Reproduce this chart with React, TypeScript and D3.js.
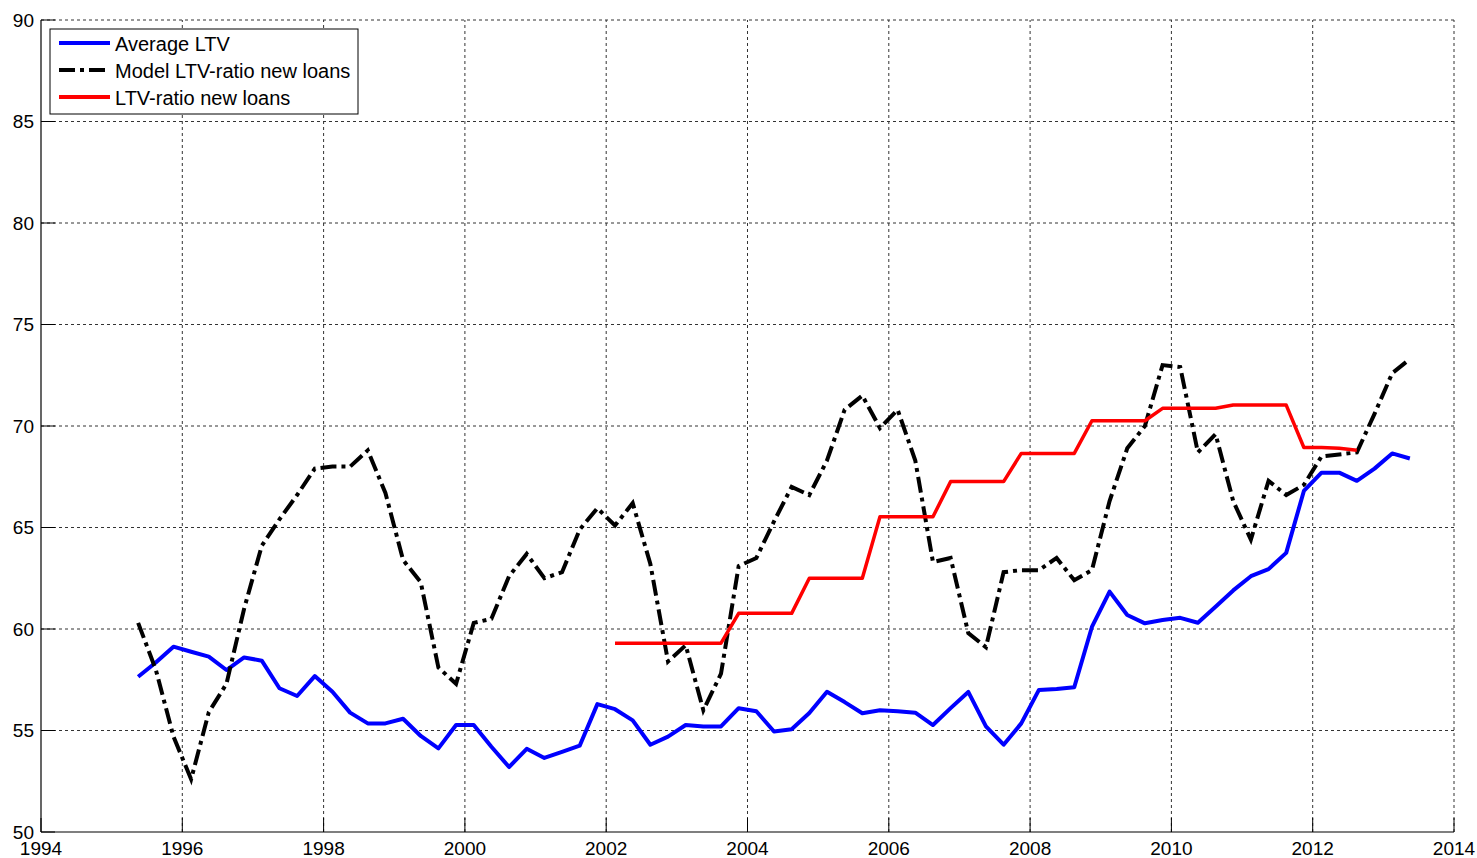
import React from "react";
import * as d3 from "d3";

// Quarterly observations, first quarter plotted at 1995.375
const startYear = 1995.375;
const quarterStep = 0.25;

const averageLTV = [
  57.65, 58.35, 59.13, 58.88, 58.64, 57.98, 58.6, 58.44, 57.08, 56.7,
  57.68, 56.91, 55.88, 55.35, 55.35, 55.58, 54.73, 54.12, 55.27, 55.27,
  54.2, 53.2, 54.1, 53.65, 53.95, 54.25, 56.3, 56.05, 55.5, 54.3,
  54.7, 55.27, 55.2, 55.2, 56.1, 55.95, 54.95, 55.06, 55.86, 56.91,
  56.4, 55.85, 56.0, 55.95, 55.88, 55.27, 56.1, 56.9, 55.2, 54.3,
  55.35, 57.0, 57.05, 57.13, 60.1, 61.84, 60.69, 60.28, 60.44, 60.55,
  60.31, 61.1, 61.9, 62.6, 62.95, 63.75, 66.8, 67.7, 67.7, 67.3,
  67.9, 68.65, 68.4,
];

const modelLTV = [
  60.3, 58.0, 54.7, 52.6, 55.9, 57.3, 61.0, 64.1, 65.4, 66.6,
  67.9, 68.0, 68.0, 68.8, 66.7, 63.4, 62.3, 58.1, 57.3, 60.3,
  60.5, 62.6, 63.7, 62.5, 62.8, 64.9, 65.95, 65.1, 66.2, 63.2,
  58.4, 59.2, 56.0, 57.8, 63.1, 63.5, 65.3, 67.0, 66.6, 68.3,
  70.8, 71.5, 69.9, 70.8, 68.3, 63.3, 63.5, 59.8, 59.1, 62.8,
  62.9, 62.9, 63.5, 62.4, 62.9, 66.3, 68.9, 70.0, 73.0, 72.9,
  68.7, 69.6, 66.3, 64.4, 67.3, 66.6, 67.1, 68.5, 68.6, 68.7,
  70.6, 72.6, 73.3,
];

// LTV-ratio new loans starts at quarter index 27
const newLoansStartIndex = 27;
const newLoansLTV = [
  59.3, 59.3, 59.3, 59.3, 59.3, 59.3, 59.3,
  60.77, 60.77, 60.77, 60.77,
  62.5, 62.5, 62.5, 62.5,
  65.53, 65.53, 65.53, 65.53,
  67.26, 67.26, 67.26, 67.26,
  68.65, 68.65, 68.65, 68.65,
  70.26, 70.26, 70.26, 70.26,
  70.87, 70.87, 70.87, 70.87,
  71.03, 71.03, 71.03, 71.03,
  68.94, 68.94, 68.9, 68.8,
];

const xTicks = [1994, 1996, 1998, 2000, 2002, 2004, 2006, 2008, 2010, 2012, 2014];
const yTicks = [50, 55, 60, 65, 70, 75, 80, 85, 90];

const legendItems = [
  { label: "Average LTV", color: "#0000ff", dash: "none" },
  { label: "Model LTV-ratio new loans", color: "#000000", dash: "16,5,4,5" },
  { label: "LTV-ratio new loans", color: "#ff0000", dash: "none" },
];

export default function App() {
  const W = 1477;
  const H = 858;
  const x = d3.scaleLinear().domain([1994, 2014]).range([41, 1454]);
  const y = d3.scaleLinear().domain([50, 90]).range([832, 20]);

  const toPts = (vals: number[], offset: number) =>
    vals.map((v, i) => [startYear + (i + offset) * quarterStep, v] as [number, number]);

  const line = d3
    .line<[number, number]>()
    .x((d) => x(d[0]))
    .y((d) => y(d[1]));

  const font = "'Liberation Sans', Arial, sans-serif";
  const tickLen = 14;

  return (
    <svg
      width={W}
      height={H}
      style={{ position: "absolute", left: 0, top: 0, background: "#fff" }}
    >
      <rect x={0} y={0} width={W} height={H} fill="#fff" />
      {/* grid */}
      {xTicks.slice(1).map((t) => (
        <line
          key={"gx" + t}
          x1={x(t)}
          x2={x(t)}
          y1={y(50)}
          y2={y(90)}
          stroke="#333"
          strokeWidth={1}
          strokeDasharray="3,3"
        />
      ))}
      {yTicks.slice(1).map((t) => (
        <line
          key={"gy" + t}
          x1={x(1994)}
          x2={x(2014)}
          y1={y(t)}
          y2={y(t)}
          stroke="#333"
          strokeWidth={1}
          strokeDasharray="3,3"
        />
      ))}
      {/* series */}
      <path
        d={line(toPts(averageLTV, 0)) || ""}
        fill="none"
        stroke="#0000ff"
        strokeWidth={4}
        strokeLinejoin="round"
      />
      <path
        d={line(toPts(modelLTV, 0)) || ""}
        fill="none"
        stroke="#000"
        strokeWidth={4}
        strokeDasharray="16,5,4,5"
      />
      <path
        d={line(toPts(newLoansLTV, newLoansStartIndex)) || ""}
        fill="none"
        stroke="#ff0000"
        strokeWidth={3.5}
        strokeLinejoin="round"
      />
      {/* axes */}
      <line x1={x(1994)} x2={x(2014)} y1={y(50)} y2={y(50)} stroke="#000" strokeWidth={1.2} />
      <line x1={x(1994)} x2={x(1994)} y1={y(50)} y2={y(90)} stroke="#000" strokeWidth={1.2} />
      {xTicks.map((t) => (
        <g key={"tx" + t}>
          <line x1={x(t)} x2={x(t)} y1={y(50)} y2={y(50) - tickLen} stroke="#000" strokeWidth={1} />
          <text
            x={x(t)}
            y={848}
            textAnchor="middle"
            dominantBaseline="central"
            fontFamily={font}
            fontSize={19}
            fill="#000"
          >
            {t}
          </text>
        </g>
      ))}
      {yTicks.map((t) => (
        <g key={"ty" + t}>
          <line x1={x(1994)} x2={x(1994) + tickLen} y1={y(t)} y2={y(t)} stroke="#000" strokeWidth={1} />
          <text
            x={34}
            y={y(t)}
            textAnchor="end"
            dominantBaseline="central"
            fontFamily={font}
            fontSize={19}
            fill="#000"
          >
            {t}
          </text>
        </g>
      ))}
      {/* legend */}
      <rect x={50} y={29} width={308} height={85} fill="#fff" stroke="#000" strokeWidth={1} />
      {legendItems.map((it, i) => {
        const ly = 43 + i * 27;
        return (
          <g key={it.label}>
            <line
              x1={59}
              x2={110}
              y1={ly}
              y2={ly}
              stroke={it.color}
              strokeWidth={4}
              strokeDasharray={it.dash}
            />
            <text
              x={115}
              y={ly + 1}
              dominantBaseline="central"
              fontFamily={font}
              fontSize={20}
              fill="#000"
            >
              {it.label}
            </text>
          </g>
        );
      })}
    </svg>
  );
}
